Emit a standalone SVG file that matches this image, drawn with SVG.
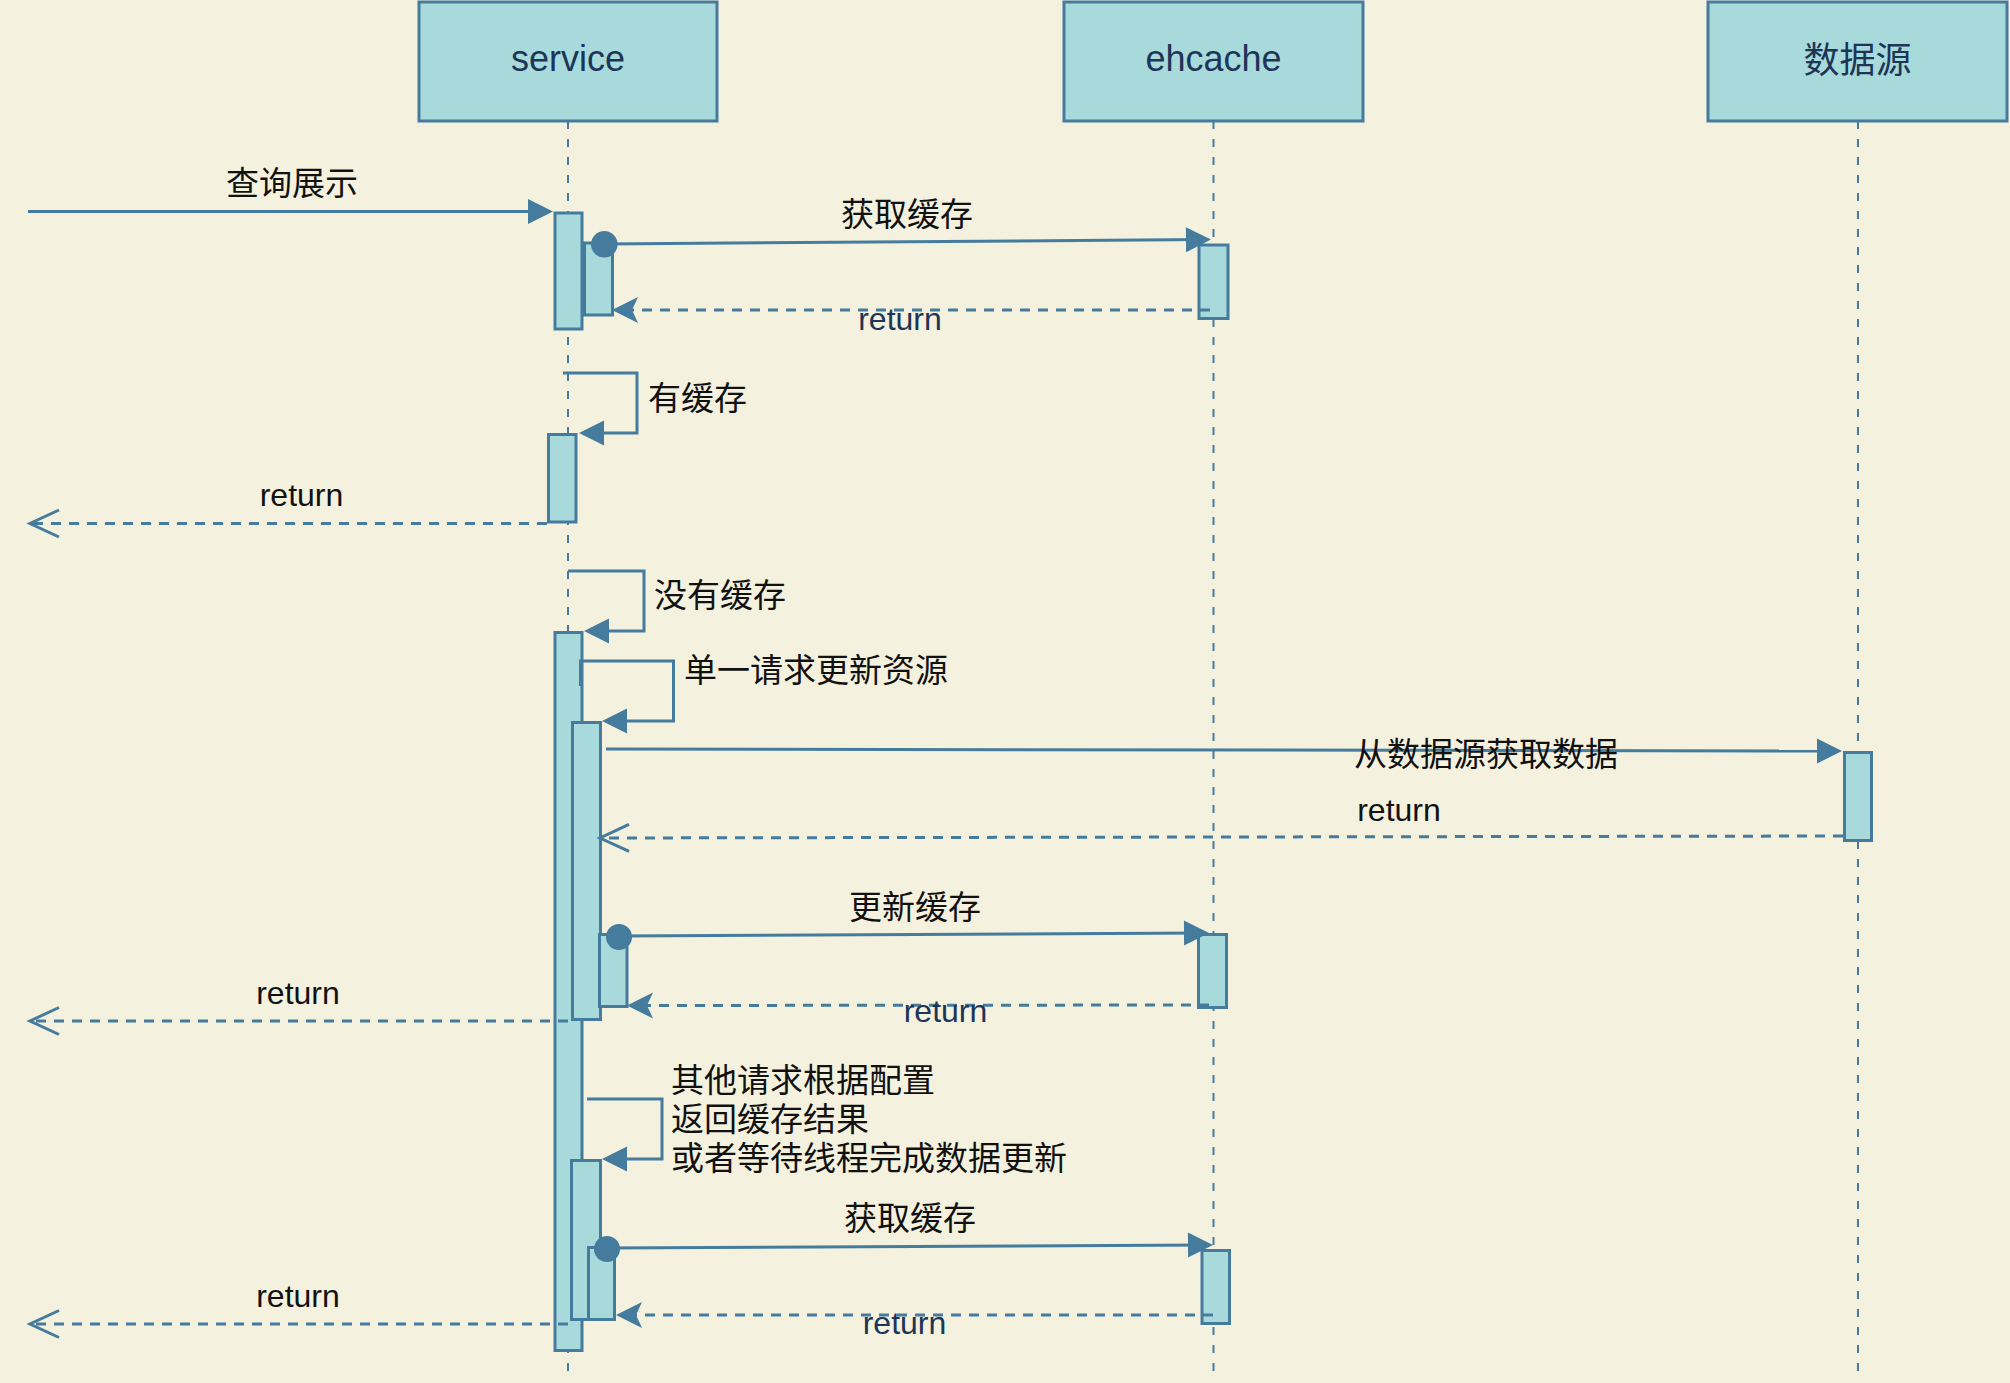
<svg xmlns="http://www.w3.org/2000/svg" width="2010" height="1383" viewBox="0 0 2010 1383">
<style>
.box{fill:#A8DADC;stroke:#457B9D;stroke-width:3}
.life{stroke:#457B9D;stroke-width:2;stroke-dasharray:8 10;fill:none}
.msg{stroke:#457B9D;stroke-width:3;fill:none}
.ret{stroke:#457B9D;stroke-width:3;fill:none;stroke-dasharray:10 8}
.dot{fill:#457B9D}
.hdr{font-family:"Liberation Sans","Noto Sans CJK SC",sans-serif;font-size:36px;fill:#1D3557;text-anchor:middle}
.lbl{font-family:"Liberation Sans","Noto Sans CJK SC",sans-serif;font-size:33px;fill:#111}
.rl{font-family:"Liberation Sans","Noto Sans CJK SC",sans-serif;font-size:32px;fill:#111;text-anchor:middle}
.rn{font-family:"Liberation Sans","Noto Sans CJK SC",sans-serif;font-size:32px;fill:#1D3557;text-anchor:middle}
</style>
<defs>
<marker id="block" markerUnits="userSpaceOnUse" markerWidth="26" markerHeight="26" refX="19" refY="12.5" orient="auto" overflow="visible">
<path d="M0,0 L25,12.5 L0,25 Z" fill="#457B9D"/>
</marker>
<marker id="classic" markerUnits="userSpaceOnUse" markerWidth="27" markerHeight="27" refX="20" refY="13" orient="auto" overflow="visible">
<path d="M0,0 L26,13 L0,26 L6,13 Z" fill="#457B9D"/>
</marker>
<marker id="open" markerUnits="userSpaceOnUse" markerWidth="30" markerHeight="28" refX="29" refY="13.5" orient="auto" overflow="visible">
<path d="M0,0 L29,13.5 L0,27" fill="none" stroke="#457B9D" stroke-width="3"/>
</marker>
</defs>
<rect x="0" y="0" width="2010" height="1383" fill="#F4F1DE"/>

<g id="service">
<line class="life" x1="568" y1="121" x2="568" y2="1372"/>
<rect class="box" x="419" y="2" width="298" height="119"/>
<text class="hdr" x="568" y="71">service</text>
<rect class="box" x="555" y="213" width="27" height="116"/>
<rect class="box" x="584.5" y="243" width="28" height="72"/>
<rect class="box" x="548.5" y="434.5" width="27.5" height="87.5"/>
<rect class="box" x="555" y="632.5" width="27" height="718"/>
<rect class="box" x="572.5" y="722.5" width="28" height="297"/>
<rect class="box" x="599.5" y="934.5" width="27.5" height="72"/>
<rect class="box" x="571.5" y="1160.5" width="29" height="159"/>
<rect class="box" x="588.5" y="1247.5" width="26" height="72"/>
</g>

<g id="ehcache">
<line class="life" x1="1213.5" y1="121" x2="1213.5" y2="1372"/>
<rect class="box" x="1064" y="2" width="299" height="119"/>
<text class="hdr" x="1213.5" y="71">ehcache</text>
<rect class="box" x="1199" y="245" width="29" height="73.5"/>
<rect class="box" x="1198.5" y="934.5" width="28" height="73"/>
<rect class="box" x="1202" y="1250.5" width="27.5" height="73"/>
</g>

<g id="datasource">
<line class="life" x1="1858" y1="121" x2="1858" y2="1372"/>
<rect class="box" x="1708" y="2" width="299" height="119"/>
<text class="hdr" x="1857.5" y="73" font-family="Noto Sans CJK SC, sans-serif">数据源</text>
<rect class="box" x="1844.5" y="752.5" width="27" height="88"/>
</g>

<g id="connectors">
<!-- 查询展示 -->
<line class="msg" x1="28" y1="211.5" x2="547" y2="211.5" marker-end="url(#block)"/>
<text class="lbl" x="226" y="195">查询展示</text>
<!-- 获取缓存 1 -->
<circle class="dot" cx="604.3" cy="244.3" r="13.3"/>
<line class="msg" x1="604" y1="244" x2="1205" y2="239.5" marker-end="url(#block)"/>
<text class="lbl" x="841" y="226">获取缓存</text>
<!-- return 1 -->
<line class="ret" x1="1210" y1="310" x2="618" y2="310" marker-end="url(#classic)"/>
<text class="rn" x="900" y="330">return</text>
<!-- 有缓存 -->
<polyline class="msg" points="563,373 637,373 637,433 585,433" marker-end="url(#block)"/>
<text class="lbl" x="648" y="410">有缓存</text>
<!-- return 2 -->
<line class="ret" x1="547" y1="523.5" x2="30" y2="523.5" marker-end="url(#open)"/>
<text class="rl" x="301.5" y="506">return</text>
<!-- 没有缓存 -->
<polyline class="msg" points="568,571 644,571 644,631 590,631" marker-end="url(#block)"/>
<text class="lbl" x="654" y="607">没有缓存</text>
<!-- 单一请求更新资源 -->
<polyline class="msg" points="580.5,686 580.5,661 673.5,661 673.5,721 608,721" marker-end="url(#block)"/>
<text class="lbl" x="684" y="682">单一请求更新资源</text>
<!-- 从数据源获取数据 -->
<line class="msg" x1="606" y1="749" x2="1836" y2="751" marker-end="url(#block)"/>
<text class="lbl" x="1354" y="766" textLength="264" lengthAdjust="spacing">从数据源获取数据</text>
<!-- return 3 -->
<line class="ret" x1="1843" y1="836" x2="600" y2="838" marker-end="url(#open)"/>
<text class="rl" x="1399" y="821">return</text>
<!-- 更新缓存 -->
<circle class="dot" cx="619" cy="937" r="13"/>
<line class="msg" x1="619" y1="936" x2="1203" y2="933" marker-end="url(#block)"/>
<text class="lbl" x="849" y="919">更新缓存</text>
<!-- return 4 -->
<line class="ret" x1="1209" y1="1005" x2="633" y2="1005.5" marker-end="url(#classic)"/>
<text class="rn" x="945.5" y="1022">return</text>
<!-- return 5 -->
<line class="ret" x1="568" y1="1021" x2="30" y2="1021" marker-end="url(#open)"/>
<text class="rl" x="298" y="1004">return</text>
<!-- 其他请求 -->
<polyline class="msg" points="587,1099 662,1099 662,1159 608,1159" marker-end="url(#block)"/>
<text class="lbl" x="671" y="1092">其他请求根据配置</text>
<text class="lbl" x="671" y="1131">返回缓存结果</text>
<text class="lbl" x="671" y="1170">或者等待线程完成数据更新</text>
<!-- 获取缓存 2 -->
<circle class="dot" cx="607" cy="1249" r="13"/>
<line class="msg" x1="607" y1="1248" x2="1207" y2="1245" marker-end="url(#block)"/>
<text class="lbl" x="844" y="1230">获取缓存</text>
<!-- return 6 -->
<line class="ret" x1="1213" y1="1315" x2="622" y2="1315" marker-end="url(#classic)"/>
<text class="rn" x="904.5" y="1334">return</text>
<!-- return 7 -->
<line class="ret" x1="568" y1="1324" x2="30" y2="1324" marker-end="url(#open)"/>
<text class="rl" x="298" y="1307">return</text>
</g>
</svg>
